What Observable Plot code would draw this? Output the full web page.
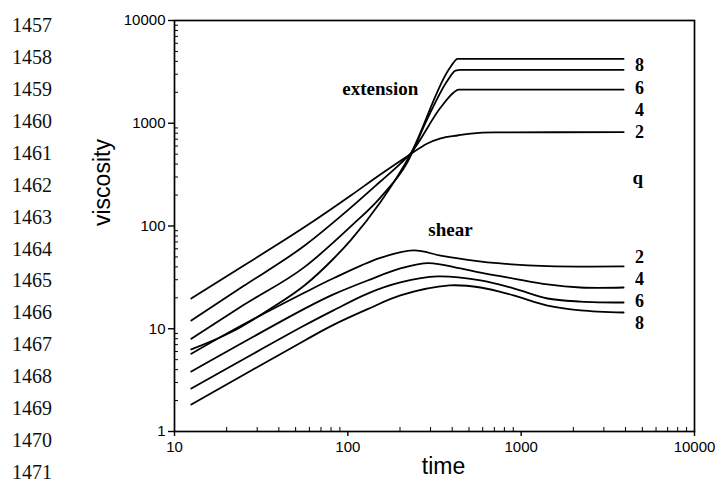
<!DOCTYPE html>
<html><head><meta charset="utf-8">
<script src="https://cdn.jsdelivr.net/npm/d3@7"></script>
<script src="https://cdn.jsdelivr.net/npm/@observablehq/plot@0.6"></script>
<style>
body{margin:0;background:#fff;}
#wrap{position:relative;width:716px;height:485px;overflow:hidden;}
#wrap svg{position:absolute;left:0;top:0;}
#nums{position:absolute;left:0;top:0;width:70px;height:485px;font-family:"Liberation Serif","Times New Roman",serif;font-size:20px;color:#111;z-index:2;}
#nums div{position:absolute;left:12px;line-height:20px;}
</style></head><body>
<div id="wrap"><div id="nums"></div></div>
<script>
// page line numbers printed in the left margin of the source document
const lineNumbers = [1457,1458,1459,1460,1461,1462,1463,1464,1465,1466,1467,1468,1469,1470,1471];

// axis ticks
const xTicks = [10, 100, 1000, 10000];
const yTicks = [1, 10, 100, 1000, 10000];
const xMinor = [20,30,40,50,60,70,80,90,200,300,400,500,600,700,800,900,2000,3000,4000,5000,6000,7000,8000,9000];
const yMinor = [2,3,4,5,6,7,8,9,20,30,40,50,60,70,80,90,200,300,400,500,600,700,800,900,2000,3000,4000,5000,6000,7000,8000,9000];

// extensional viscosity curves, q = 2, 4, 6, 8 : [time, viscosity]
const ext2 = [[12.5,19.7],[25,41],[56,97],[104,198],[154,317],[224,486],[288,635],[343,711],[430,760],[511,794],[700,815],[3900,818]];
const ext4 = [[12.5,12.0],[25,26],[56.4,64.6],[104,151],[154,271],[201,405],[230,508],[343,1422],[408,1991],[435,2128],[3900,2128]];
const ext6 = [[12.5,8.0],[25,17],[56.4,40],[104,99],[154,189],[221,420],[288,1111],[376,2606],[418,3258],[445,3311],[3900,3311]];
const ext8 = [[12.5,6.3],[21.3,9.3],[35,15.3],[56.4,26.5],[82.6,48],[104,73],[154,170],[230,500],[391,3530],[430,4236],[3900,4236]];

// shear viscosity curves, q = 2, 4, 6, 8 : [time, viscosity]
const shear2 = [[12.5,5.7],[21.3,9.5],[56.4,22.5],[82.6,31],[154,49],[240,57.8],[343,51.6],[531,46.1],[760,43.2],[1419,40.7],[3900,40.4]];
const shear4 = [[12.5,3.84],[56.4,15.7],[82.6,21.6],[130,29.5],[201,38.6],[292,43.6],[447,38.6],[583,35.2],[903,30.8],[1419,27.0],[2200,25.2],[3900,25.2]];
const shear6 = [[12.5,2.62],[56.4,10.8],[82.6,15.1],[130,22.0],[201,28.2],[330,32.3],[583,29.5],[903,24.7],[1419,19.7],[2200,18.4],[3900,18.0]];
const shear8 = [[12.5,1.83],[56.4,7.7],[82.6,10.9],[130,15.5],[201,21.1],[386,26.4],[583,25.2],[903,21.1],[1419,16.8],[2200,15.1],[3900,14.4]];

// right-hand q labels
const labelTime = 4820;
const extLabelNames = ["8","6","4","2"];
const extLabelValues = [3648, 2178, 1330, 813];
const shearLabelNames = ["2","4","6","8"];
const shearLabelValues = [49.3, 30.1, 18.4, 11.2];

// annotations
const noteTexts = ["extension", "shear", "q"];
const noteTimes = [154, 391, 4700];
const noteValues = [2178, 92.5, 297];

const extList = [["ext2", ext2], ["ext4", ext4], ["ext6", ext6], ["ext8", ext8]];
const shearList = [["shear2", shear2], ["shear4", shear4], ["shear6", shear6], ["shear8", shear8]];
const toRows = list => {
  const out = [];
  for (const [name, pts] of list) for (const [t, v] of pts) out.push({series: name, time: t, viscosity: v});
  return out;
};
const extRows = toRows(extList);
const shearRows = toRows(shearList);

const rightLabels = [
  ...extLabelNames.map((s, i) => ({text: s, time: labelTime, viscosity: extLabelValues[i]})),
  ...shearLabelNames.map((s, i) => ({text: s, time: labelTime, viscosity: shearLabelValues[i]}))
];
const notes = noteTexts.map((s, i) => ({text: s, time: noteTimes[i], viscosity: noteValues[i]}));

const serif = "'Liberation Serif', 'Times New Roman', serif";

const chart = Plot.plot({
  width: 716,
  height: 485,
  marginLeft: 174,
  marginRight: 22,
  marginTop: 20,
  marginBottom: 54,
  x: {type: "log", domain: [10, 10000]},
  y: {type: "log", domain: [1, 10000]},
  style: {fontFamily: "'Liberation Sans', Arial, sans-serif", background: "white", color: "black"},
  marks: [
    Plot.axisX({ticks: xTicks, tickFormat: d => String(d), tickSize: 5, tickPadding: 5, fontSize: 15, label: null, strokeWidth: 1.4}),
    Plot.axisX({ticks: xMinor, tickSize: -4, tickFormat: () => "", label: null}),
    Plot.axisY({ticks: yTicks, tickFormat: d => String(d), tickSize: 6, tickPadding: 3, fontSize: 15, label: null, strokeWidth: 1.4}),
    Plot.axisY({ticks: yMinor, tickSize: -4, tickFormat: () => "", label: null}),
    Plot.frame({stroke: "black", strokeWidth: 1.7}),
    Plot.line(extRows, {x: "time", y: "viscosity", z: "series", curve: "monotone-x", stroke: "black", strokeWidth: 1.8}),
    Plot.line(shearRows, {x: "time", y: "viscosity", z: "series", curve: "catmull-rom", stroke: "black", strokeWidth: 1.8}),
    Plot.text(rightLabels, {x: "time", y: "viscosity", text: "text", fontFamily: serif, fontWeight: "bold", fontSize: 18, fill: "black"}),
    Plot.text(notes, {x: "time", y: "viscosity", text: "text", fontFamily: serif, fontWeight: "bold", fontSize: 19, fill: "black"}),
    Plot.text(["viscosity"], {text: d => d, frameAnchor: "left", dx: -72, rotate: -90, fontSize: 23, lineAnchor: "middle", fill: "black"}),
    Plot.text(["time"], {text: d => d, frameAnchor: "bottom", dx: 9, dy: 35, fontSize: 23, lineAnchor: "middle", fill: "black"})
  ]
});
document.getElementById("wrap").appendChild(chart);

const nums = document.getElementById("nums");
lineNumbers.forEach((n, i) => {
  const d = document.createElement("div");
  d.textContent = n;
  d.style.top = (25 + i * 31.93 - 10) + "px";
  nums.appendChild(d);
});
</script>
</body></html>
